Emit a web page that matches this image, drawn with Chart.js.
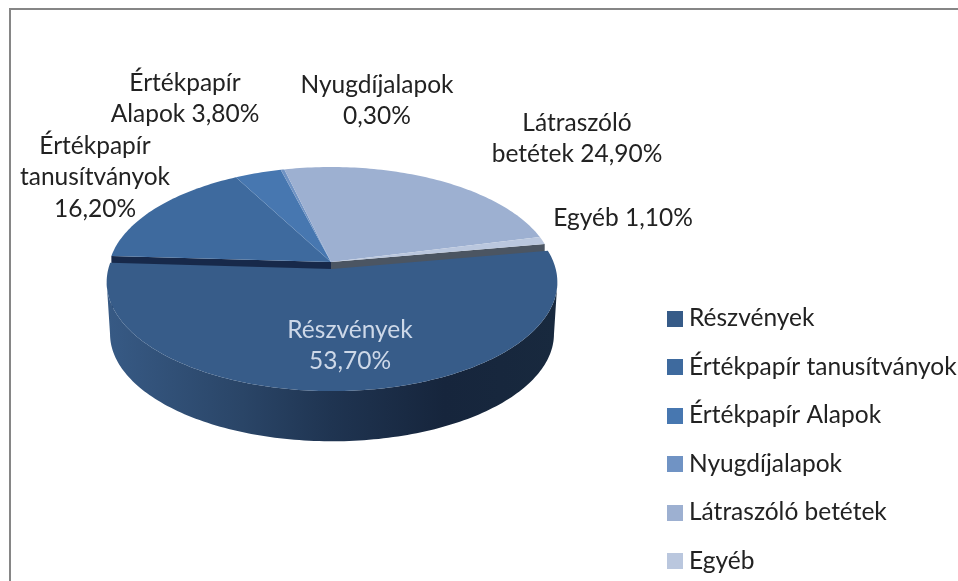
<!DOCTYPE html>
<html>
<head>
<meta charset="utf-8">
<script src="https://cdn.jsdelivr.net/npm/chart.js@4"></script>
<style>
html,body{margin:0;padding:0;background:#fff;overflow:hidden}
canvas{display:block;filter:blur(0.35px)}
</style>
</head>
<body>
<canvas id="c" width="958" height="581"></canvas>
<script>
const categories = ['Részvények','Értékpapír tanusítványok','Értékpapír Alapok','Nyugdíjalapok','Látraszóló betétek','Egyéb'];
const shares = [53.7,16.2,3.8,0.3,24.9,1.1];
const sliceColors = ['#375c89','#3e6a9e','#4777b0','#7093c4','#9db0d1','#bac7de'];
const legendColors = ['#365b88','#3e6a9e','#4777b0','#7093c4','#9db0d1','#bac7de'];
// words per line of each slice's data label
const labelWordsPerLine = [[1,1],[1,1,1],[1,2],[1,1],[1,2],[2]];

const FONT = 'Lato, "Open Sans", sans-serif';
const labelLayout = [
  {x:350,y:330,color:'#cdd8e8'},
  {x:95,y:146,color:'#222'},
  {x:185,y:83,color:'#222'},
  {x:377,y:85,color:'#222'},
  {x:577,y:123,color:'#222'},
  {x:623,y:218,color:'#222'}
];
const geo = {cx:331,cy:262,A:221.5,B:106.4,k:-0.12,depth:52,explodeX:1,explodeY:7,explodeScale:1.01,bottomScale:0.985};

function project(theta,r,dx,dy,s){
  const u=Math.cos(theta)*r, v=Math.sin(theta)*r, w=1+geo.k*v;
  return [geo.cx+dx+s*geo.A*u/w, geo.cy+dy+s*geo.B*v/w];
}
function arcPoints(a0,a1,dx,dy,s){
  const n=Math.max(2,Math.ceil(Math.abs(a1-a0)/0.02)), pts=[];
  for(let i=0;i<=n;i++) pts.push(project(a0+(a1-a0)*i/n,1,dx,dy,s));
  return pts;
}
function fillPoly(ctx,pts,fill){
  ctx.beginPath();
  pts.forEach((p,i)=>i?ctx.lineTo(p[0],p[1]):ctx.moveTo(p[0],p[1]));
  ctx.closePath();
  ctx.fillStyle=fill;
  ctx.fill();
}

const pie3d = {
  id:'pie3d',
  beforeDraw(chart){
    const ctx=chart.ctx;
    ctx.save();
    ctx.strokeStyle='#868686';
    ctx.lineWidth=2;
    ctx.beginPath();
    ctx.moveTo(10,581);ctx.lineTo(10,9);ctx.lineTo(958,9);
    ctx.stroke();
    ctx.restore();
  },
  afterLayout(chart){
    chart.legend.left=649.25;
    chart.legend.top=282.25;
    chart.legend.bottom=700;
  },
  beforeDatasetsDraw(chart){
    const ctx=chart.ctx, arcs=chart.getDatasetMeta(0).data;
    const ex=geo.explodeX, ey=geo.explodeY, es=geo.explodeScale;
    ctx.save();
    const main=arcs[0];
    const first=arcs[1], last=arcs[arcs.length-1];
    const apex=[geo.cx,geo.cy];
    const leftC=project(first.startAngle,1,0,0,1), rightC=project(last.endAngle,1,0,0,1);
    const drop=p=>[p[0],p[1]+geo.depth];
    // cut faces of the remaining slices, seen behind the pulled-out slice
    fillPoly(ctx,[apex,leftC,drop(leftC),drop(apex)],'#17294a');
    fillPoly(ctx,[apex,rightC,drop(rightC),drop(apex)],'#4b5562');
    // rim of the pulled-out slice
    const top=arcPoints(main.startAngle,main.endAngle,ex,ey,es);
    const bot=arcPoints(main.startAngle,main.endAngle,ex,ey+geo.depth,es*geo.bottomScale);
    const grad=ctx.createLinearGradient(107,0,557,0);
    grad.addColorStop(0,'#375a85');
    grad.addColorStop(0.3,'#2a4567');
    grad.addColorStop(0.5,'#1f3451');
    grad.addColorStop(0.75,'#16253c');
    grad.addColorStop(1,'#18293e');
    const widest=(list,sign)=>list.reduce((b,p)=>sign*p[0]>sign*b[0]?p:b,list[0]);
    const iR=top.indexOf(widest(top,1)), iL=top.indexOf(widest(top,-1));
    const jR=bot.indexOf(widest(bot,1)), jL=bot.indexOf(widest(bot,-1));
    fillPoly(ctx,top.slice(iR,iL+1).concat(bot.slice(jR,jL+1).reverse()),grad);
    // rear top faces
    arcs.forEach((el,i)=>{
      if(i===0) return;
      fillPoly(ctx,[apex].concat(arcPoints(el.startAngle,el.endAngle,0,0,1)),el.options.backgroundColor);
    });
    // pulled-out top face
    fillPoly(ctx,[[geo.cx+ex,geo.cy+ey]].concat(arcPoints(main.startAngle,main.endAngle,ex,ey,es)),main.options.backgroundColor);
    // data labels
    ctx.font='24.5px '+FONT;
    ctx.textAlign='center';
    ctx.textBaseline='middle';
    shares.forEach((v,i)=>{
      const words=(categories[i]+' '+v.toFixed(2).replace('.',',')+'%').split(' ');
      const pos=labelLayout[i];
      let w=0;
      ctx.fillStyle=pos.color;
      labelWordsPerLine[i].forEach((count,line)=>{
        ctx.fillText(words.slice(w,w+count).join(' '),pos.x,pos.y+line*31.5);
        w+=count;
      });
    });
    ctx.restore();
    return false;
  }
};

function swatch(color){
  const c=document.createElement('canvas');
  c.width=16;c.height=16;
  const x=c.getContext('2d');
  x.fillStyle=color;
  x.fillRect(0,0,16,16);
  return c;
}

new Chart(document.getElementById('c'),{
  type:'pie',
  data:{labels:categories,datasets:[{data:shares,backgroundColor:sliceColors,borderWidth:0}]},
  plugins:[pie3d],
  options:{
    responsive:false,
    animation:false,
    rotation:80,
    plugins:{
      tooltip:{enabled:false},
      legend:{
        position:'right',
        align:'start',
        labels:{
          font:{family:FONT,size:24.5},
          color:'#222',
          usePointStyle:true,
          pointStyleWidth:3.5,
          padding:24,
          generateLabels(chart){
            return categories.map((t,i)=>({text:t,fontColor:'#222',pointStyle:swatch(legendColors[i]),index:i,hidden:false,lineWidth:0}));
          }
        }
      }
    }
  }
});
</script>
</body>
</html>
